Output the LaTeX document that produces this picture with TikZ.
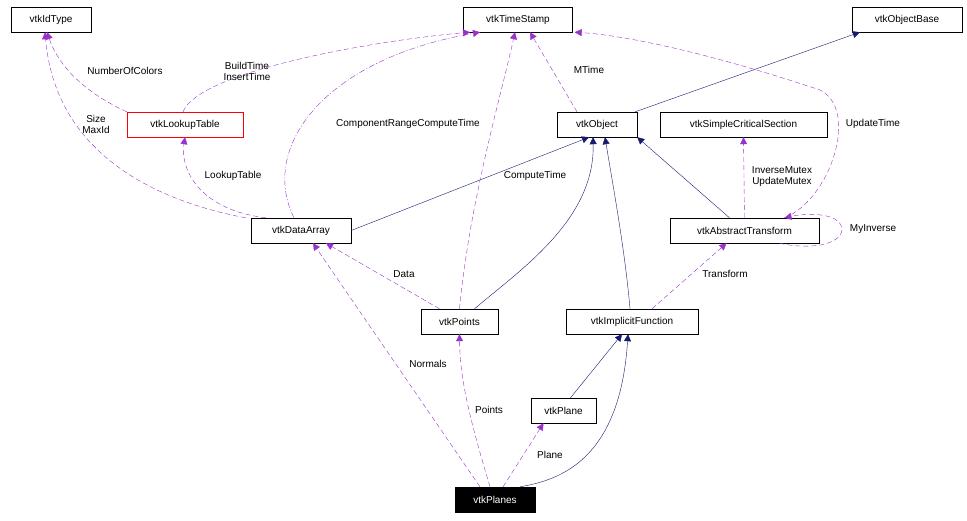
\documentclass[tikz,border=0pt]{standalone}
\usepackage{fontspec}
\setmainfont{Liberation Sans}
\usetikzlibrary{arrows.meta,positioning}
\begin{document}
\begin{tikzpicture}[x=1pt,y=-1pt,
 box/.style={draw=black,fill=white,minimum height=25pt,inner sep=0pt,font=\fontsize{10}{11}\selectfont},
 inh/.style={draw={rgb,255:red,25;green,25;blue,112},-{Triangle[length=7pt,width=7pt]}},
 dep/.style={draw={rgb,255:red,153;green,50;blue,204},dashed,dash pattern=on 5pt off 3pt,-{Triangle[length=7pt,width=7pt]}},
 lab/.style={font=\fontsize{10}{11}\selectfont,align=center,inner sep=1pt}]
\useasboundingbox (0,0) rectangle (967,520);
\node[box,minimum width=80pt] (id) at (51,19.5) {vtkIdType};
\node[box,minimum width=109pt] (ts) at (518,19.5) {vtkTimeStamp};
\node[box,minimum width=110pt] (ob) at (907,19.5) {vtkObjectBase};
\node[box,minimum width=116pt,draw=red] (lt) at (185,124.5) {vtkLookupTable};
\node[box,minimum width=80pt] (o) at (597,124.5) {vtkObject};
\node[box,minimum width=167pt] (cs) at (743.5,124.5) {vtkSimpleCriticalSection};
\node[box,minimum width=100pt] (da) at (301,230.5) {vtkDataArray};
\node[box,minimum width=149pt] (at) at (744.5,230.5) {vtkAbstractTransform};
\node[box,minimum width=77pt] (pt) at (459.5,321.5) {vtkPoints};
\node[box,minimum width=132pt] (if) at (632,321.5) {vtkImplicitFunction};
\node[box,minimum width=65pt] (pl) at (563.5,410.5) {vtkPlane};
\node[box,minimum width=80pt,fill=black,text=white] (ps) at (495,499.5) {vtkPlanes};
% inheritance
\draw[inh] ([xshift=-2pt]o.north east) -- ([xshift=8pt]ob.south west);
\draw[inh] (da.east) -- ([xshift=-8pt]o.south);
\draw[inh] ([xshift=15pt]pt.north) .. controls (520,270) and (595,220) .. ([xshift=-4pt]o.south);
\draw[inh] ([xshift=-2pt]if.north) .. controls (625,250) and (612,180) .. ([xshift=8pt]o.south);
\draw[inh] ([xshift=-15pt]at.north) -- (o.south east);
\draw[inh] ([xshift=7pt]pl.north) -- ([xshift=-10pt]if.south);
\draw[inh] ([xshift=25pt]ps.north) .. controls (560,480) and (620,460) .. ([xshift=-4pt]if.south);
% dependencies
\draw[dep] (lt.north west) .. controls (90,95) and (60,70) .. ([xshift=-4pt]id.south);
\node[lab] (l1) at (125,71) {NumberOfColors};
\draw[dep] ([xshift=-5pt]da.north west) .. controls (150,200) and (55,150) .. ([xshift=-6pt]id.south);
\node[lab] (l2) at (96,124) {Size\\MaxId};
\draw[dep] ([xshift=-2pt]lt.north) .. controls (200,70) and (380,40) .. ([xshift=-48pt]ts.south);
\node[lab] (l3) at (247,71) {BuildTime\\InsertTime};
\draw[dep,dash pattern=on 6pt off 2pt on 1pt off 2pt] ([xshift=-7pt]da.north) .. controls (260,150) and (320,60) .. ([xshift=-38pt]ts.south);
\node[lab] (l4) at (408,124) {ComponentRangeComputeTime};
\draw[dep] ([xshift=-35pt]da.north) .. controls (200,210) and (180,170) .. (lt.south);
\node[lab] (l5) at (233,176) {LookupTable};
\draw[dep] (pt.north) .. controls (470,200) and (500,100) .. ([xshift=-3pt]ts.south);
\node[lab] (l6) at (535,176) {ComputeTime};
\draw[dep] ([xshift=-20pt]o.north) -- ([xshift=12pt]ts.south);
\node[lab] (l7) at (589,70) {MTime};
\draw[dep] ([xshift=40pt]at.north) .. controls (830,200) and (860,110) .. (820,90) .. controls (700,50) and (620,35) .. ([xshift=2pt]ts.south east);
\node[lab] (l8) at (873,124) {UpdateTime};
\draw[dep] (at.north) -- (cs.south);
\node[lab] (l9) at (782,177) {InverseMutex\\UpdateMutex};
\draw[dep] ([xshift=35pt]at.south) .. controls (810,250) and (840,245) .. (842,230) .. controls (842,214) and (812,212) .. ([xshift=40pt]at.north);
\node[lab] (l10) at (873,229) {MyInverse};
\draw[dep] ([xshift=-20pt]pt.north) -- ([xshift=25pt]da.south);
\node[lab] (l11) at (404,274) {Data};
\draw[dep] ([xshift=20pt]if.north) -- ([xshift=-18pt]at.south);
\node[lab] (l12) at (725,274) {Transform};
\draw[dep] ([xshift=-15pt]ps.north) -- ([xshift=12pt]da.south);
\node[lab] (l13) at (428,364) {Normals};
\draw[dep] ([xshift=-5pt]ps.north) .. controls (470,420) and (460,380) .. (pt.south);
\node[lab] (l14) at (489,410) {Points};
\draw[dep] ([xshift=8pt]ps.north) -- ([xshift=-20pt]pl.south);
\node[lab] (l15) at (550,455) {Plane};
\end{tikzpicture}
\end{document}
